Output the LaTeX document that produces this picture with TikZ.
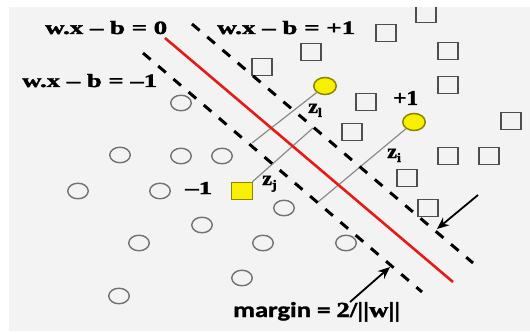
\documentclass[tikz,border=0pt]{standalone}
\usepackage{fontspec}
\setmainfont{Liberation Serif}[BoldFeatures={FakeBold=1.6}]
\newfontfamily\calib{Carlito}[BoldFeatures={FakeBold=1.2}]
\usetikzlibrary{arrows.meta,shapes.geometric}
\definecolor{bggray}{HTML}{F3F3F3}
\definecolor{circgray}{HTML}{727272}
\definecolor{sqgray}{HTML}{4E4E4E}
\definecolor{ptyellow}{HTML}{F8F000}
\definecolor{ptedge}{HTML}{8A8400}
\definecolor{hypred}{HTML}{E41B17}
\definecolor{zgray}{HTML}{8A8A8A}
\begin{document}
\begin{tikzpicture}[x=1pt,y=-1pt,
  opencirc/.style={ellipse,draw=circgray,line width=1.4pt,minimum width=20.5pt,minimum height=15.5pt,inner sep=0pt},
  opensq/.style={rectangle,draw=sqgray,line width=1.7pt,minimum width=20pt,minimum height=17pt,inner sep=0pt},
  yellowcirc/.style={ellipse,draw=ptedge,fill=ptyellow,line width=1.5pt,minimum width=22.5pt,minimum height=17pt,inner sep=0pt},
  yellowsq/.style={rectangle,draw=ptedge,fill=ptyellow,line width=1.5pt,minimum width=21pt,minimum height=17pt,inner sep=0pt},
  marginline/.style={line width=3pt,dash pattern=on 10pt off 10pt,black},
  hyperline/.style={line width=2.6pt,hypred},
  zline/.style={line width=1.2pt,zgray},
  arr/.style={line width=1.8pt,-{Stealth[length=12pt,width=10pt]}},
  lbl/.style={inner sep=0pt,anchor=base west,font=\bfseries}
]
\useasboundingbox (0,0) rectangle (530,334);
\fill[white] (0,0) rectangle (530,334);
\fill[bggray] (9,7) rectangle (530,331);

% open circles (class -1)
\foreach \n/\x/\y in {c1/181/103, c2/120/155, c3/181/156, c4/222/156, c5/78/191, c6/160/191,
  c7/202/225, c8/139/243, c9/263/243, c10/242/278, c11/119/296, c12/284/208, c13/346/243}
  \node[opencirc] (\n) at (\x,\y) {};

% open squares (class +1)
\foreach \n/\x/\y in {s1/426/14, s2/386/33, s3/311/52, s4/262/67, s5/448/51, s6/448/85,
  s7/366/102, s8/352/132, s9/511/121, s10/448/156, s11/489/156, s12/407/178, s13/428/208}
  \node[opensq] (\n) at (\x,\y) {};

% support vectors
\node[yellowcirc] (svl) at (325,86) {};
\node[yellowcirc] (svi) at (414,122) {};
\node[yellowsq] (svj) at (242,191) {};

% hyperplane ends
\coordinate (up0) at (192,24);
\coordinate (up1) at (473,263);
\coordinate (mid0) at (165,38);
\coordinate (mid1) at (453,282);
\coordinate (lo0) at (143,53);
\coordinate (lo1) at (422,292);

% feet of the z segments
\coordinate (fl) at (252,143);
\coordinate (fj) at (313,128);
\coordinate (fi) at (318,202);

\draw[zline] (svl) -- (fl);
\draw[zline] (svj) -- (fj);
\draw[zline] (svi) -- (fi);

\draw[marginline] (up0) -- (up1);
\draw[marginline] (lo0) -- (lo1);
\draw[hyperline] (mid0) -- (mid1);

% margin arrows
\coordinate (a1s) at (478,195);
\coordinate (a1e) at (437,229);
\coordinate (a2s) at (350,302);
\coordinate (a2e) at (390,267);
\draw[arr] (a1s) -- (a1e);
\draw[arr] (a2s) -- (a2e);

% top white band (cropped slide)
\fill[white] (0,0) rectangle (530,7);

% labels
\node[lbl] (eq0) at (45,34) {\resizebox{122pt}{13pt}{\bfseries w.x – b = 0}};
\node[lbl] (eqp) at (217,34) {\resizebox{138pt}{13pt}{\bfseries w.x – b = +1}};
\node[lbl] (eqm) at (22,87) {\resizebox{135pt}{13pt}{\bfseries w.x – b = –1}};
\node[lbl] (plus) at (393,105) {\resizebox{25pt}{14pt}{\bfseries +1}};
\node[lbl] (minus) at (185,194) {\resizebox{27pt}{12pt}{\bfseries –1}};
\node[lbl] (zl) at (308,113) {\scalebox{1.1}[1]{\fontsize{20}{20}\selectfont\bfseries z\raisebox{-4pt}{\fontsize{13}{13}\selectfont l}}};
\node[lbl] (zi) at (387,158) {\scalebox{1.1}[1]{\fontsize{20}{20}\selectfont\bfseries z\raisebox{-4pt}{\fontsize{13}{13}\selectfont i}}};
\node[lbl] (zj) at (262,185) {\scalebox{1.1}[1]{\fontsize{20}{20}\selectfont\bfseries z\raisebox{-4pt}{\fontsize{13}{13}\selectfont j}}};
\node[lbl] (marg) at (233,317) {\resizebox{167pt}{15pt}{{\calib\bfseries margin = }\bfseries 2/||w||}};
\end{tikzpicture}
\end{document}
